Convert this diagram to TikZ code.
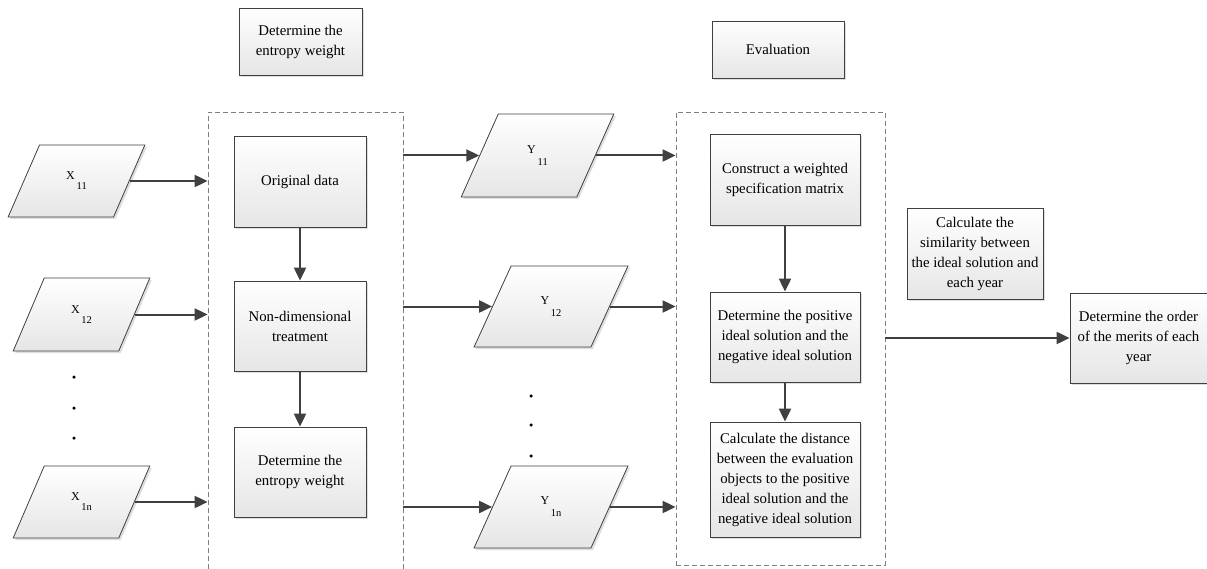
\documentclass[tikz,border=0pt]{standalone}
\usepackage{fontspec}
\setmainfont{Liberation Serif}
\usetikzlibrary{shapes.geometric,arrows.meta,shadows,calc}
\definecolor{edge}{HTML}{404040}
\definecolor{dashc}{HTML}{7F7F7F}
\newcommand{\sublbl}[3]{{\fontsize{12}{12}\selectfont #1\raisebox{-#3}{\fontsize{10.5}{10.5}\selectfont\,#2}}}
\begin{document}
\begin{tikzpicture}[x=1pt,y=-1pt,
  txt/.style={font=\fontsize{14.8}{20}\selectfont, align=center},
  box/.style={txt, rectangle, draw=edge, line width=0.8pt, top color=white, bottom color=gray!20,
    drop shadow={shadow xshift=2pt, shadow yshift=-2pt, fill=gray!50, opacity=0.5}, inner sep=2pt},
  para/.style={trapezium, trapezium left angle=64, trapezium right angle=116, trapezium stretches=true,
    draw=edge, line width=0.8pt, top color=white, bottom color=gray!20,
    drop shadow={shadow xshift=2pt, shadow yshift=-2pt, fill=gray!50, opacity=0.5}, inner sep=0pt},
  dbox/.style={draw=dashc, line width=0.8pt, dash pattern=on 5pt off 3pt, rectangle, inner sep=0pt},
  arr/.style={draw=edge, line width=2pt, -{Triangle[length=13pt,width=12pt]}},
  dot/.style={circle, fill=black, inner sep=0pt, minimum size=3.5pt}
]
\clip (0,0) rectangle (1207,569);
\fill[white] (0,0) rectangle (1207,569);

% dashed groups
\node[dbox, minimum width=195, minimum height=470] (lbox) at (305.5,347) {};
\node[dbox, minimum width=209, minimum height=453] (rbox) at (780.5,338.5) {};

% title boxes
\node[box, minimum width=123, minimum height=67] (ttl1) at (300.5,41.5) {Determine the\\entropy weight};
\node[box, minimum width=132, minimum height=57] (ttl2) at (778,49.5) {Evaluation};

% input parallelograms
\node[para, minimum width=137, minimum height=72] (x11) at (76.5,181) {\sublbl{X}{11}{10pt}};
\node[para, minimum width=137, minimum height=73] (x12) at (81.5,314.5) {\sublbl{X}{12}{10pt}};
\node[para, minimum width=137, minimum height=72] (x1n) at (81.5,502) {\sublbl{X}{1n}{10pt}};

\node[dot] (xd1) at (74,377) {};
\node[dot] (xd2) at (74,408) {};
\node[dot] (xd3) at (74,438) {};

% left group boxes
\node[box, minimum width=132, minimum height=91] (orig) at (300,181.5) {Original data};
\node[box, minimum width=132, minimum height=90] (nond) at (300,326) {Non-dimensional\\treatment};
\node[box, minimum width=132, minimum height=90] (entw) at (300,472) {Determine the\\entropy weight};

% Y parallelograms
\node[para, minimum width=153, minimum height=83] (y11) at (537.5,155.5) {\sublbl{Y}{11}{12pt}};
\node[para, minimum width=154, minimum height=81] (y12) at (551,306.5) {\sublbl{Y}{12}{12pt}};
\node[para, minimum width=154, minimum height=82] (y1n) at (551,507) {\sublbl{Y}{1n}{12pt}};

\node[dot] (yd1) at (531,396) {};
\node[dot] (yd2) at (531,425) {};
\node[dot] (yd3) at (531,456) {};

% right group boxes
\node[box, minimum width=150, minimum height=91] (cons) at (785,179.5) {Construct a weighted\\specification matrix};
\node[box, minimum width=150, minimum height=90] (posi) at (785,337) {Determine the positive\\ideal solution and the\\negative ideal solution};
\node[box, minimum width=150, minimum height=115] (dist) at (785,479.5) {Calculate the distance\\between the evaluation\\objects to the positive\\ideal solution and the\\negative ideal solution};

% side boxes
\node[box, minimum width=136, minimum height=91] (simi) at (975,253.5) {Calculate the\\similarity between\\the ideal solution and\\each year};
\node[box, minimum width=137, minimum height=90] (ordr) at (1138.5,338) {Determine the order\\of the merits of each\\year};

% connectors
\draw[arr] (x11.east) -- (x11.east -| lbox.west);
\draw[arr] (x12.east) -- (x12.east -| lbox.west);
\draw[arr] (x1n.east) -- (x1n.east -| lbox.west);

\draw[arr] (orig.south) -- (nond.north);
\draw[arr] (nond.south) -- (entw.north);

\draw[arr] (y11.west -| lbox.east) -- (y11.west);
\draw[arr] (y12.west -| lbox.east) -- (y12.west);
\draw[arr] (y1n.west -| lbox.east) -- (y1n.west);

\draw[arr] (y11.east) -- (y11.east -| rbox.west);
\draw[arr] (y12.east) -- (y12.east -| rbox.west);
\draw[arr] (y1n.east) -- (y1n.east -| rbox.west);

\draw[arr] (cons.south) -- (posi.north);
\draw[arr] (posi.south) -- (dist.north);

\draw[arr] (ordr.west -| rbox.east) -- (ordr.west);
\end{tikzpicture}
\end{document}
